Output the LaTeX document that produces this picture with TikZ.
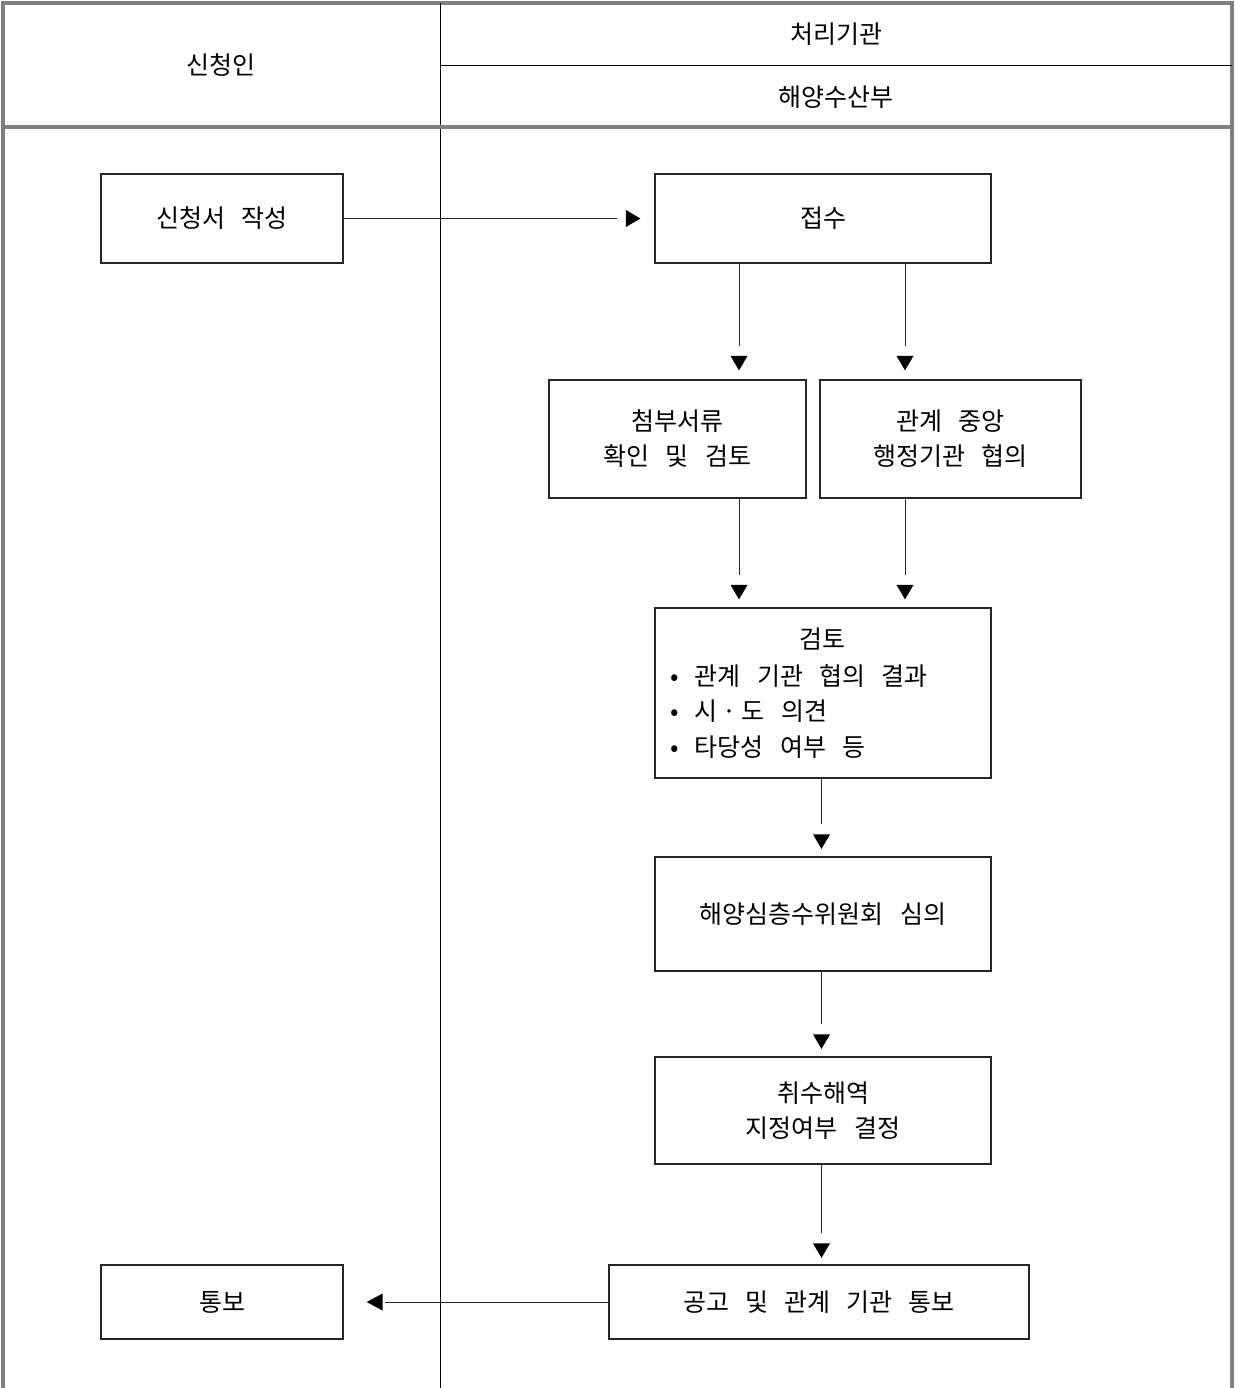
\documentclass[tikz,border=0pt]{standalone}
\usepackage{fontspec}
\setmainfont{Noto Sans CJK KR}[WordSpace=2.9]
\usetikzlibrary{calc}
\newcommand\downtip[2]{\fill[tipfill] ($#1+(0,-#2)$) -- ++(-8.5,-14.5) -- ++(17,0) -- cycle;}
\begin{document}
\begin{tikzpicture}[x=1pt,y=-1pt,
  txt/.style={inner sep=0pt, align=center, font=\fontsize{25}{35}\selectfont},
  box/.style={txt, draw=black!85, line width=1.2pt},
  conn/.style={line width=1pt, draw=black!85},
  tipfill/.style={fill=black},
  frameline/.style={draw=black!50, line width=4pt, line join=miter},
  divider/.style={draw=black, line width=1pt}
  ]
\useasboundingbox (0,0) rectangle (1234,1388);

% frame and lanes
\draw[frameline] (3,1390) -- (3,3) -- (1232,3) -- (1232,1390);
\draw[divider] (440.5,3) -- (440.5,1390);
\draw[divider] (440.5,65.5) -- (1232,65.5);
\draw[frameline] (3,127.5) -- (1232,127.5);

% header texts
\node[txt] (hApplicant) at (221,65) {신청인};
\node[txt] (hAgency) at (836,34) {처리기관};
\node[txt] (hMinistry) at (836,97) {해양수산부};

% boxes
\node[box, minimum width=242pt, minimum height=89pt] (apply) at (222,218.5) {신청서 작성};
\node[box, minimum width=336pt, minimum height=89pt] (recv) at (823,218.5) {접수};
\node[box, minimum width=257pt, minimum height=118pt] (attach) at (677.5,439) {첨부서류\\확인 및 검토};
\node[box, minimum width=261pt, minimum height=118pt] (consult) at (950.5,439) {관계 중앙\\행정기관 협의};
\node[box, minimum width=336pt, minimum height=170pt] (review) at (823,693) {};
\node[box, minimum width=336pt, minimum height=114pt] (committee) at (823,914) {해양심층수위원회 심의};
\node[box, minimum width=336pt, minimum height=107pt] (decide) at (823,1110.5) {취수해역\\지정여부 결정};
\node[box, minimum width=420pt, minimum height=74pt] (notice) at (819,1302) {공고 및 관계 기관 통보};
\node[box, minimum width=242pt, minimum height=74pt] (notify) at (222,1302) {통보};

% review contents
\node[txt, anchor=base] (rt0) at (822,648) {검토};
\node[txt, anchor=base west] (rt1) at (670,685) {• 관계 기관 협의 결과};
\node[txt, anchor=base west] (rt2) at (670,720) {• 시\hspace{5pt}·\hspace{5pt}도 의견};
\node[txt, anchor=base west] (rt3) at (670,756) {• 타당성 여부 등};

% lane x positions
\coordinate (xL) at (739,0);
\coordinate (xR) at (905,0);
\coordinate (xM) at (821.5,0);

% connectors
\draw[conn, shorten >=37pt] (apply) -- (recv);
\fill[tipfill] ($(recv.west)+(-14,0)$) -- ++(-14.5,-8.5) -- ++(0,17) -- cycle;

\draw[conn, shorten >=33pt] (recv.south -| xL) -- (attach.north -| xL);
\downtip{(attach.north -| xL)}{9}
\draw[conn, shorten >=33pt] (recv.south -| xR) -- (consult.north -| xR);
\downtip{(consult.north -| xR)}{9}

\draw[conn, shorten >=32pt] (attach.south -| xL) -- (review.north -| xL);
\downtip{(review.north -| xL)}{8}
\draw[conn, shorten >=32pt] (consult.south -| xR) -- (review.north -| xR);
\downtip{(review.north -| xR)}{8}

\draw[conn, shorten >=32pt] (review.south -| xM) -- (committee.north -| xM);
\downtip{(committee.north -| xM)}{7.5}
\draw[conn, shorten >=32pt] (committee.south -| xM) -- (decide.north -| xM);
\downtip{(decide.north -| xM)}{7.5}
\draw[conn, shorten >=31pt] (decide.south -| xM) -- (notice.north -| xM);
\downtip{(notice.north -| xM)}{6.5}

\draw[conn, shorten >=41pt] (notice) -- (notify);
\fill[tipfill] ($(notify.east)+(23,0)$) -- ++(16,-8.5) -- ++(0,17) -- cycle;
\end{tikzpicture}
\end{document}
